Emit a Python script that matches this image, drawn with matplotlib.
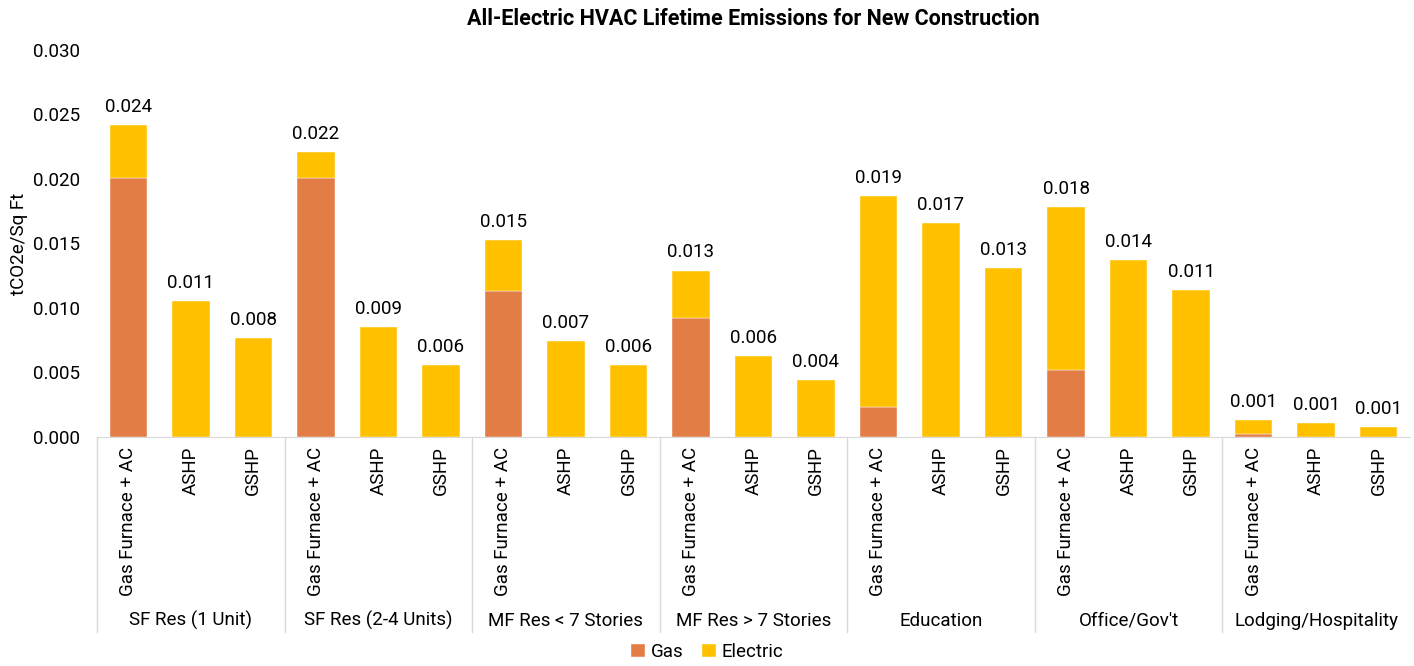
import numpy as np
import matplotlib
matplotlib.use("Agg")
import matplotlib.pyplot as plt
from matplotlib.ticker import FormatStrFormatter

plt.rcParams['font.family'] = ['Roboto', 'DejaVu Sans']

groups = ["SF Res (1 Unit)", "SF Res (2-4 Units)", "MF Res < 7 Stories",
          "MF Res > 7 Stories", "Education", "Office/Gov't", "Lodging/Hospitality"]
systems = ["Gas Furnace + AC", "ASHP", "GSHP"]

# totals per bar (tCO2e/sq ft) and gas portion
gas = [0.0201, 0, 0,
       0.0201, 0, 0,
       0.0113, 0, 0,
       0.0092, 0, 0,
       0.0023, 0, 0,
       0.0052, 0, 0,
       0.0002, 0, 0]
total = [0.0242, 0.0105, 0.0077,
         0.0221, 0.0085, 0.0056,
         0.0153, 0.0074, 0.0056,
         0.0129, 0.0063, 0.0044,
         0.0187, 0.0166, 0.0131,
         0.0178, 0.0137, 0.0114,
         0.0013, 0.0011, 0.0008]
electric = [t - g for t, g in zip(total, gas)]

gas_color = "#E27D45"
elec_color = "#FFC000"
line_color = "#D9D9D9"
fs = 13.5

fig = plt.figure(figsize=(14.14, 6.66), dpi=100)
ax = fig.add_axes([0.0686, 0.344, 0.9285, 0.581])

x = np.arange(len(total))
ax.bar(x, gas, width=0.6, color=gas_color, label="Gas", edgecolor="white", linewidth=0.3)
ax.bar(x, electric, bottom=gas, width=0.6, color=elec_color, label="Electric",
       edgecolor="white", linewidth=0.3)

for xi, t in zip(x, total):
    ax.annotate(f"{t:.3f}", (xi, t), xytext=(0, 6.5), textcoords="offset points",
                ha="center", va="bottom", fontsize=fs)

ax.set_xlim(-0.5, len(total) - 0.5)
ax.set_ylim(0, 0.030)
ax.set_yticks(np.arange(0, 0.0301, 0.005))
ax.yaxis.set_major_formatter(FormatStrFormatter("%.3f"))
ax.tick_params(axis="y", length=0, pad=12, labelsize=fs)
ax.set_ylabel("tCO2e/Sq Ft", fontsize=fs, labelpad=4)

ax.set_xticks(x)
ax.set_xticklabels(systems * len(groups), rotation=90, fontsize=fs, va="top")
ax.tick_params(axis="x", length=0, pad=7)

for s in ["top", "right", "left"]:
    ax.spines[s].set_visible(False)
ax.spines["bottom"].set_color(line_color)

trans = ax.get_xaxis_transform()
for k in range(len(groups)):
    xs = 3 * k - 0.5
    ax.plot([xs, xs], [0, -0.505], transform=trans, color=line_color,
            linewidth=1, clip_on=False)
    ax.text(3 * k + 1, -0.475, groups[k], transform=trans, ha="center",
            va="center", fontsize=fs)

ax.set_title("All-Electric HVAC Lifetime Emissions for New Construction",
             fontsize=15.5, fontweight="bold", pad=18)

fig.legend(loc="lower center", bbox_to_anchor=(0.5, -0.018), ncol=2, frameon=False,
           fontsize=fs, handlelength=0.75, handleheight=0.75, handletextpad=0.3,
           columnspacing=1.0)

fig.savefig("out.png", dpi=100)
